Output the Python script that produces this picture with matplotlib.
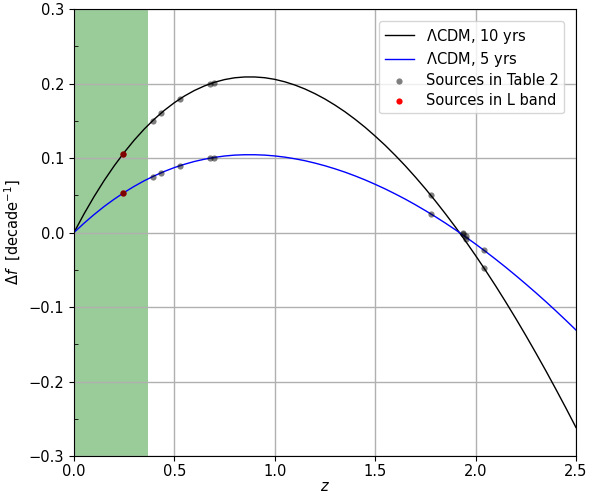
import numpy as np
import matplotlib
matplotlib.use("Agg")
import matplotlib.pyplot as plt
from matplotlib.ticker import MultipleLocator

# curves (z step 0.05)
z_grid = [0.00, 0.05, 0.10, 0.15, 0.20, 0.25, 0.30, 0.35, 0.40, 0.45,
          0.50, 0.55, 0.60, 0.65, 0.70, 0.75, 0.80, 0.85, 0.90, 0.95,
          1.00, 1.05, 1.10, 1.15, 1.20, 1.25, 1.30, 1.35, 1.40, 1.45,
          1.50, 1.55, 1.60, 1.65, 1.70, 1.75, 1.80, 1.85, 1.90, 1.95,
          2.00, 2.05, 2.10, 2.15, 2.20, 2.25, 2.30, 2.35, 2.40, 2.45, 2.50]
df_10yr = [0.0, 0.0250, 0.0482, 0.0697, 0.0894, 0.1075, 0.1240, 0.1389,
           0.1522, 0.1640, 0.1743, 0.1832, 0.1907, 0.1968, 0.2017, 0.2053,
           0.2077, 0.2088, 0.2088, 0.2078, 0.2056, 0.2023, 0.1980, 0.1927,
           0.1864, 0.1792, 0.1710, 0.1620, 0.1520, 0.1412, 0.1294, 0.1170,
           0.1036, 0.0895, 0.0745, 0.0588, 0.0423, 0.0251, 0.0072, -0.0115,
           -0.0309, -0.0510, -0.0717, -0.0932, -0.1153, -0.1381, -0.1616,
           -0.1856, -0.2104, -0.2357, -0.2617]
df_5yr = [0.0, 0.0125, 0.0241, 0.0349, 0.0447, 0.0538, 0.0620, 0.0695,
          0.0761, 0.0820, 0.0872, 0.0916, 0.0954, 0.0984, 0.1009, 0.1027,
          0.1039, 0.1044, 0.1044, 0.1039, 0.1028, 0.1012, 0.0990, 0.0964,
          0.0932, 0.0896, 0.0855, 0.0810, 0.0760, 0.0706, 0.0647, 0.0585,
          0.0518, 0.0448, 0.0373, 0.0294, 0.0212, 0.0126, 0.0036, -0.0058,
          -0.0155, -0.0255, -0.0359, -0.0466, -0.0577, -0.0691, -0.0808,
          -0.0928, -0.1052, -0.1179, -0.1309]

# sources
z_src = [0.243, 0.392, 0.435, 0.526, 0.678, 0.695, 1.776, 1.935, 1.95, 2.04]
src_10yr = [0.105, 0.150, 0.161, 0.179, 0.200, 0.201, 0.050, -0.002, -0.009, -0.047]
src_5yr = [0.0525, 0.075, 0.0805, 0.0895, 0.100, 0.1005, 0.025, -0.001, -0.0045, -0.0235]

z_lband = [0.243]
lband_10yr = [0.105]
lband_5yr = [0.0525]

lband_zmax = 0.37

plt.rc('font', size=10.5)
plt.rcParams['mathtext.fontset'] = 'dejavusans'

fig = plt.figure(figsize=(5.89, 4.96), dpi=100)
ax = fig.add_axes([0.1256, 0.0806, 0.8523, 0.9012])

ax.axvspan(0, lband_zmax, color='green', alpha=0.4, lw=0)

ax.plot(z_grid, df_10yr, color='black', lw=1, label=r'$\Lambda$CDM, 10 yrs')
ax.plot(z_grid, df_5yr, color='blue', lw=1, label=r'$\Lambda$CDM, 5 yrs')

# gray source dots sit on top of the red L-band ones
ax.scatter(z_src, src_10yr, s=20, color='black', alpha=0.5, lw=0, zorder=4,
           label='Sources in Table 2')
ax.scatter(z_src, src_5yr, s=20, color='black', alpha=0.5, lw=0, zorder=4)
ax.scatter(z_lband, lband_10yr, s=20, color='red', lw=0, zorder=3,
           label='Sources in L band')
ax.scatter(z_lband, lband_5yr, s=20, color='red', lw=0, zorder=3)

ax.set_xlim(0, 2.5)
ax.set_ylim(-0.3, 0.3)
ax.xaxis.set_major_locator(MultipleLocator(0.5))
ax.yaxis.set_major_locator(MultipleLocator(0.1))
ax.yaxis.set_minor_locator(MultipleLocator(0.05))
ax.tick_params(which='minor', direction='in', length=3)
ax.tick_params(axis='x', which='major', pad=2)
ax.grid(True, which='major', color='#b0b0b0', lw=1)

ax.set_xlabel(r'$z$', labelpad=0)
ax.set_ylabel(r'$\Delta f$  [decade$^{-1}$]')

leg = ax.legend(loc='upper right', borderaxespad=0.8, fontsize=10.5,
                labelspacing=0.3)

fig.savefig('out.png', dpi=100)
